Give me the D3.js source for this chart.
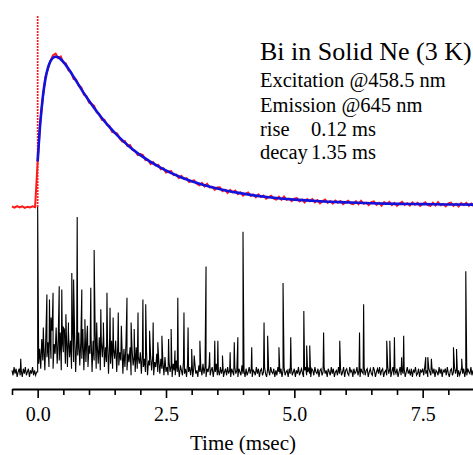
<!DOCTYPE html>
<html>
<head>
<meta charset="utf-8">
<script src="https://cdn.jsdelivr.net/npm/d3@7"></script>
<style>
  body { margin: 0; background: #fff; }
  svg { display: block; }
  text { font-family: "Liberation Serif", "Times New Roman", serif; fill: #000; }
</style>
</head>
<body>
<div class="chart"></div>
<script>
'use strict';

// time axis (ms)
const timeDomain = [-0.5, 8.5];
const majorTicks = [0, 2.5, 5, 7.5];
const minorTicks = [-0.5, 0.5, 1, 1.5, 2, 3, 3.5, 4, 4.5, 5.5, 6, 6.5, 7, 8, 8.5];

// measured luminescence (red), sampled every 0.05 ms
const redStep = 0.05;
const redPre = [0.003, -0.004, 0.006, -0.002, 0.004, -0.006, 0.002, -0.003, 0.005, -0.001]; // t = -0.5 .. -0.05
const laserSpike = 1.28; // scatter spike at t = 0
const redPost = [ // t = 0 .. 8.5
  0.304, 0.56, 0.725, 0.865, 0.922, 0.975, 1.012, 1.022, 0.992, 1.003,
  0.963, 0.957, 0.911, 0.899, 0.854, 0.850, 0.810, 0.798, 0.750, 0.739,
  0.696, 0.688, 0.674, 0.631, 0.620, 0.582, 0.582, 0.548, 0.540, 0.501,
  0.496, 0.490, 0.455, 0.435, 0.439, 0.406, 0.413, 0.380, 0.374, 0.347,
  0.353, 0.346, 0.312, 0.315, 0.286, 0.299, 0.277, 0.281, 0.252, 0.258,
  0.230, 0.237, 0.240, 0.212, 0.216, 0.193, 0.207, 0.187, 0.192, 0.166,
  0.173, 0.178, 0.155, 0.145, 0.160, 0.137, 0.155, 0.131, 0.134, 0.115,
  0.130, 0.131, 0.105, 0.115, 0.094, 0.114, 0.098, 0.109, 0.086, 0.098,
  0.076, 0.088, 0.096, 0.074, 0.084, 0.065, 0.084, 0.067, 0.077, 0.055,
  0.066, 0.075, 0.056, 0.050, 0.068, 0.049, 0.069, 0.048, 0.055, 0.039,
  0.056, 0.060, 0.037, 0.049, 0.030, 0.052, 0.039, 0.052, 0.031, 0.045,
  0.025, 0.039, 0.050, 0.028, 0.040, 0.023, 0.043, 0.029, 0.040, 0.019,
  0.032, 0.042, 0.023, 0.019, 0.038, 0.019, 0.041, 0.022, 0.029, 0.013,
  0.032, 0.037, 0.014, 0.028, 0.009, 0.032, 0.020, 0.034, 0.013, 0.028,
  0.008, 0.023, 0.034, 0.014, 0.025, 0.009, 0.030, 0.015, 0.027, 0.007,
  0.020, 0.031, 0.012, 0.008, 0.028, 0.010, 0.032, 0.012, 0.020, 0.005,
  0.024, 0.029, 0.007, 0.021, 0.003, 0.026, 0.014, 0.028, 0.008, 0.023,
  0.003
];

// fitted curve (blue)
const fitTime = [0, 0.05, 0.1, 0.15, 0.2, 0.25, 0.3, 0.35, 0.4, 0.5, 0.6, 0.7, 0.8, 0.9, 1.0,
  1.2, 1.4, 1.6, 1.8, 2.0, 2.4, 2.8, 3.2, 3.6, 4.0, 4.5, 5.0, 5.5, 6.0, 6.5, 7.0, 7.5, 8.0, 8.5];
const fitValue = [0.304, 0.557, 0.733, 0.851, 0.927, 0.972, 0.995, 1.002, 0.998, 0.967, 0.921, 0.868, 0.813, 0.759, 0.709,
  0.615, 0.532, 0.461, 0.399, 0.346, 0.261, 0.197, 0.150, 0.115, 0.089, 0.065, 0.049, 0.038, 0.031, 0.025, 0.021, 0.019, 0.017, 0.016];

// residual trace (black), sampled every 0.02 ms from -0.5 ms, arbitrary units
const residStep = 0.02;
const residual = [
  1, -2, 3, -1, 2, -3, 0, 2, -2, 1, -3, 2, -1, 3, -2, 0, 2, -3, 1, -1, 3, -2, 1, -2, 0,
  0,
  5, 14, 2, 20, 7, 16, 1, 23, 9, 18,
  3, 21, 8, 25, 2, 17, 11, 27, 5, 20,
  7, 24, 1, 19, 12, 26, 5, 22, 3, 25,
  9, 19, 2, 27, 6, 23, 0, 20, 10, 24,
  4, 18, 8, 26, 1, 21, 6, 23, 3, 16,
  11, 22, 0, 19, 7, 25, 2, 17, 5, 21,
  1, 18, 9, 23, 3, 15, 6, 20, -1, 17,
  5, 19, 2, 14, 8, 19, 0, 16, 4, 12,
  7, 18, -1, 14, 3, 17, 1, 11, 6, 15,
  -2, 13, 4, 10, 0, 15, 2, 9, 5, 12,
  -1, 11, 3, 8, 0, 13, -2, 7, 4, 10,
  1, 9, -2, 6, 3, 11, 0, 7, -1, 8,
  2, 6, -2, 9, 0,
  3, -2, 6, 0, 4, -3, 5, 1, -2, 7,
  0, 3, -3, 4, 1, -2, 6, -1, 2, -3,
  5, 0, 3, -2, 4, -3, 2, 6, -1, 1,
  -3, 4, 0, 2, -2, 5, -1, 3, -3, 2,
  0, 4, -2, 1, 3, -3, 2, 0, 5, -2,
  1, -2, 3, -1, 2, -3, 0, 2, -2, 3,
  -1, 1, -3, 2, 0, -2, 3, -1, 1, -3,
  2, 0, -2, 4, -1, 1, -3, 2, -2, 0,
  3, -1, 2, -3, 1, 0, -2, 3, -1, 2,
  -3, 1, 2, -2, 0, 3, -1, -3, 2, 1,
  -2, 3, 0, -1, 2, -3, 1, -2, 3, 0,
  -1, 2, -3, 1, 3, -2, 0, 1, -3, 2,
  -1, 3, -2, 0, 2, -3, 1, -1, 3, -2,
  0, 2, -1, -3, 1, 3, -2, 0, 2, -1,
  -3, 2, 1, -2, 3, 0, -1, 2, -3, 1,
  2, -2, 0, 3, -1, 1, -3, 2, 0, -2,
  3, -1, 2, -3, 0, 1, -2, 3, -1, 2,
  -2, 0, 3, -3, 1, 2, -1, -2, 3, 0,
  1, -3, 2, -1, 0, 3, -2, 1, -3, 2,
  0, -1, 3, -2, 1, 2, -3, 0, 2, -1,
  -2, 3, 1, -3, 0, 2, -1, 3, -2, 1,
  2, -3, 0, 1, -2, 3, -1, 2, -3, 0,
  3, -2, 1, -1, 2, -3, 0, 3, -2, 1,
  -1, 2, -3, 0, 3, -1, 1, -2, 2, -3,
  1, 0, 3, -2, -1, 2, -3, 1, 0, 2,
  -2, 3, -1, 1, -3, 2, 0, -2, 3, -1,
  2, -3, 1, 0, -2, 3, -1, 2, -3, 1,
  0, 2, -2, 3, -1, -3, 1, 2, -2, 0,
  3, -1, 2, -3, 1, -2, 0, 3, -1, 2,
  -3, 1, -2, 2, 0, -1, 3, -2, 1, -3
];
// isolated spikes in the residual: [time ms, height]
const residSpikes = [
  [-0.33, 8], [0.0, 100], [0.11, 27], [0.18, 47], [0.23, 44], [0.26, 33], [0.30, 48], [0.42, 52],
  [0.47, 50], [0.50, 27], [0.55, 35], [0.60, 30], [0.665, 60], [0.70, 56], [0.77, 94], [0.86, 50],
  [0.92, 32], [0.97, 28], [1.035, 51], [1.10, 74], [1.15, 30], [1.23, 38], [1.28, 30], [1.35, 48],
  [1.41, 39], [1.47, 33], [1.57, 36], [1.63, 28], [1.74, 45], [1.82, 30], [1.88, 26], [1.955, 36],
  [2.05, 44], [2.105, 41], [2.18, 25], [2.25, 30], [2.34, 18], [2.42, 22], [2.55, 20], [2.60, 26],
  [2.675, 13], [2.73, 45], [2.85, 36], [2.93, 27], [3.0, 14], [3.05, 10], [3.16, 19], [3.28, 64],
  [3.35, 12], [3.45, 19], [3.51, 19], [3.60, 10], [3.75, 12], [3.83, 18], [3.90, 21], [4.00, 85],
  [4.17, 15], [4.41, 30], [4.48, 22], [4.70, 15], [4.78, 54], [4.93, 21], [5.185, 37], [5.24, 16],
  [5.30, 16], [5.57, 24], [5.885, 19], [6.27, 24], [6.35, 41], [6.80, 19], [6.86, 19],
  [6.95, 21], [7.09, 9], [7.13, 22], [7.56, 9], [7.60, 9], [7.67, 8], [8.10, 15],
  [8.16, 14], [8.26, 8], [8.34, 61]
];

const title = "Bi in Solid Ne (3 K)";
const infoLines = ["Excitation @458.5 nm", "Emission @645 nm"];
const fitNames = ["rise", "decay"];
const fitTimes = ["0.12 ms", "1.35 ms"];
const xTitle = "Time (msec)";

const width = 473, height = 455;

window.onload = function() {
    const svg = d3.select('.chart').append('svg')
        .attr('width', width).attr('height', height);

    const x = d3.scaleLinear().domain(timeDomain).range([12, 474]);
    const y = d3.scaleLinear().domain([-1.2, 1.4]).range([387, -3]);
    const yRes = d3.scaleLinear().domain([0, 100]).range([372, 207]);

    // residual (black)
    let resPts = residual.map((v, i) => [timeDomain[0] + residStep * i, v]);
    resPts = resPts.concat(residSpikes).sort((a, b) => a[0] - b[0]);
    svg.append('path')
        .datum(resPts)
        .attr('fill', 'none')
        .attr('stroke', '#000')
        .attr('stroke-width', 1.1)
        .attr('d', d3.line().x(d => x(d[0])).y(d => yRes(d[1])));

    // measured data (red)
    const redPts = redPre.map((v, i) => [timeDomain[0] + redStep * i, v])
        .concat(redPost.map((v, i) => [redStep * i, v]));
    svg.append('path')
        .datum(redPts)
        .attr('fill', 'none')
        .attr('stroke', '#ff1a1a')
        .attr('stroke-width', 2)
        .attr('d', d3.line().x(d => x(d[0])).y(d => y(d[1])));

    svg.append('line')
        .attr('x1', x(0)).attr('x2', x(0))
        .attr('y1', y(0)).attr('y2', y(laserSpike))
        .attr('stroke', '#ff1a1a')
        .attr('stroke-width', 1.7)
        .attr('stroke-dasharray', '2,1');

    // fit (blue)
    svg.append('path')
        .datum(fitTime.map((t, i) => [t, fitValue[i]]))
        .attr('fill', 'none')
        .attr('stroke', '#1212dd')
        .attr('stroke-width', 2.6)
        .attr('d', d3.line().curve(d3.curveMonotoneX).x(d => x(d[0])).y(d => y(d[1])));

    // bottom axis
    const axisY = 389;
    const major = svg.append('g')
        .attr('transform', 'translate(0,' + axisY + ')')
        .call(d3.axisBottom(x).tickValues(majorTicks).tickSize(9).tickSizeOuter(0).tickFormat(d3.format('.1f')));
    major.select('.domain').attr('stroke-width', 2);
    major.selectAll('.tick line').attr('stroke-width', 1.6);
    major.selectAll('.tick text')
        .attr('y', 18)
        .style('font-family', '"Liberation Serif", serif')
        .style('font-size', '20px');

    const minor = svg.append('g')
        .attr('transform', 'translate(0,' + axisY + ')')
        .call(d3.axisBottom(x).tickValues(minorTicks).tickSize(6).tickFormat(''));
    minor.select('.domain').remove();
    minor.selectAll('.tick line').attr('stroke-width', 1.6);

    svg.append('text')
        .attr('x', 243).attr('y', 450)
        .style('text-anchor', 'middle')
        .style('font-size', '21px')
        .text(xTitle);

    // annotation
    svg.append('text')
        .attr('x', 260).attr('y', 60)
        .style('font-size', '26px')
        .text(title);

    infoLines.forEach((s, i) => {
        svg.append('text')
            .attr('x', 260).attr('y', 87 + 24.5 * i)
            .style('font-size', '20.5px')
            .text(s);
    });
    fitNames.forEach((s, i) => {
        const yy = 136 + 23 * i;
        svg.append('text').attr('x', 260).attr('y', yy).style('font-size', '20.5px').text(s);
        svg.append('text').attr('x', 311).attr('y', yy).style('font-size', '20.5px').text(fitTimes[i]);
    });
};
</script>
</body>
</html>
